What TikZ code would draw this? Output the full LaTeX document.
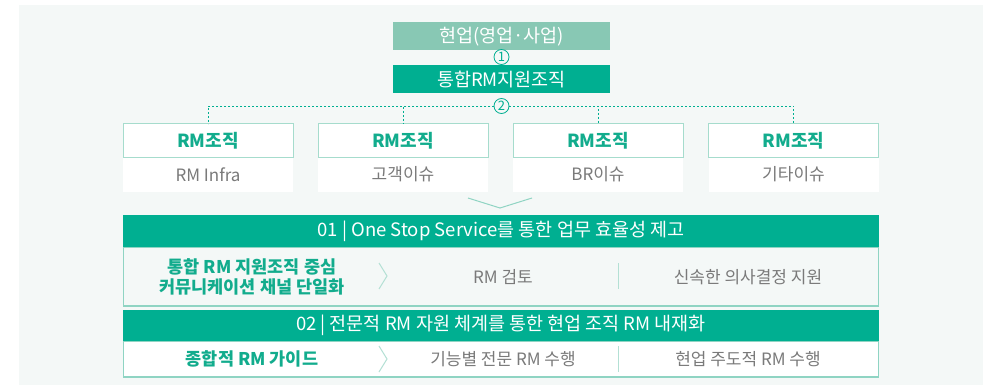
\documentclass[tikz,border=0pt]{standalone}
\usepackage{fontspec}
\setmainfont{Noto Sans CJK KR}
\definecolor{teal}{HTML}{00AF91}
\definecolor{lightg}{HTML}{88C8B4}
\definecolor{bord}{HTML}{8FD4C3}
\definecolor{topbord}{HTML}{A6DCCD}
\definecolor{panel}{HTML}{F4F8F7}
\definecolor{graytxt}{HTML}{7A7A7A}
\definecolor{tealtxt}{HTML}{12AC8D}
\definecolor{sepc}{HTML}{B3E0D4}
\begin{document}
\begin{tikzpicture}[x=1pt,y=-1pt,
  every node/.style={inner sep=0pt, outer sep=0pt},
  hbox/.style={rectangle, minimum width=217pt, minimum height=28pt, text=white, font=\fontsize{18.5}{20}\selectfont},
  numc/.style={circle, draw=teal, fill=panel, line width=0.8pt, minimum size=15pt, text=teal, font=\fontsize{13}{14}\selectfont},
  orgtop/.style={rectangle, draw=topbord, line width=1pt, fill=white, minimum width=170pt, minimum height=33pt, text=tealtxt, font=\fontsize{18}{20}\selectfont\bfseries},
  orgbot/.style={rectangle, fill=white, minimum width=170pt, minimum height=35pt, text=graytxt, font=\fontsize{17}{20}\selectfont},
  hdr/.style={rectangle, fill=teal, minimum width=756pt, text=white, font=\fontsize{18.5}{20}\selectfont},
  bodyb/.style={rectangle, draw=bord, line width=1.2pt, minimum width=755pt},
  ltxt/.style={text=tealtxt, align=center, font=\fontsize{17.5}{20}\selectfont\bfseries},
  gtxt/.style={text=graytxt, font=\fontsize{17}{20}\selectfont},
  dashline/.style={draw=teal, line width=0.8pt, dash pattern=on 2pt off 2pt},
  sepl/.style={draw=sepc, line width=1pt}
]
\useasboundingbox (0,0) rectangle (995,385);
\fill[panel] (19,5) rectangle (983,385);

% top boxes
\node[hbox, fill=lightg] (hy) at (501.5,36.5) {현업(영업·사업)};
\node[hbox, fill=teal] (tg) at (501.5,79) {통합RM지원조직};
\node[numc] (c1) at (501.5,57) {1};
\node[numc] (c2) at (501.5,106) {2};

% RM org boxes
\foreach \i/\x/\t in {1/208/RM Infra, 2/403/고객이슈, 3/598/BR이슈, 4/793.5/기타이슈}{
  \node[orgbot] (ob\i) at (\x,174.5) {\t};
  \node[orgtop] (ot\i) at (\x,140.5) {RM조직};
}

% dashed connectors
\draw[dashline] (c2.west) -| (ot1.north);
\draw[dashline] (c2.west) -| (ot2.north);
\draw[dashline] (c2.east) -| (ot3.north);
\draw[dashline] (c2.east) -| (ot4.north);

% chevron
\draw[draw=bord, line width=1pt] (468,198) -- (500,208) -- (532,198);

% 01
\node[bodyb, fill=panel, minimum height=59pt] (b1) at (501,276.5) {};
\node[hdr, minimum height=32pt] (h1) at (501,231) {01 | One Stop Service를 통한 업무 효율성 제고};
\node[ltxt] (l1) at (252,277) {통합 RM 지원조직 중심\\커뮤니케이션 채널 단일화};
\node[gtxt] (m1) at (503,277) {RM 검토};
\node[gtxt] (r1) at (748,277) {신속한 의사결정 지원};
\draw[sepl] (379,263) -- (387,276) -- (379,289);
\draw[sepl] (618,263) -- (618,289);

% 02
\node[bodyb, fill=white, minimum height=36pt] (b2) at (501,359) {};
\node[hdr, minimum height=31pt] (h2) at (501,325.5) {02 | 전문적 RM 자원 체계를 통한 현업 조직 RM 내재화};
\node[ltxt] (l2) at (252,359) {종합적 RM 가이드};
\node[gtxt] (m2) at (503,359) {기능별 전문 RM 수행};
\node[gtxt] (r2) at (748,359) {현업 주도적 RM 수행};
\draw[sepl] (379,346) -- (387,359) -- (379,372);
\draw[sepl] (618,346) -- (618,372);
\end{tikzpicture}
\end{document}
